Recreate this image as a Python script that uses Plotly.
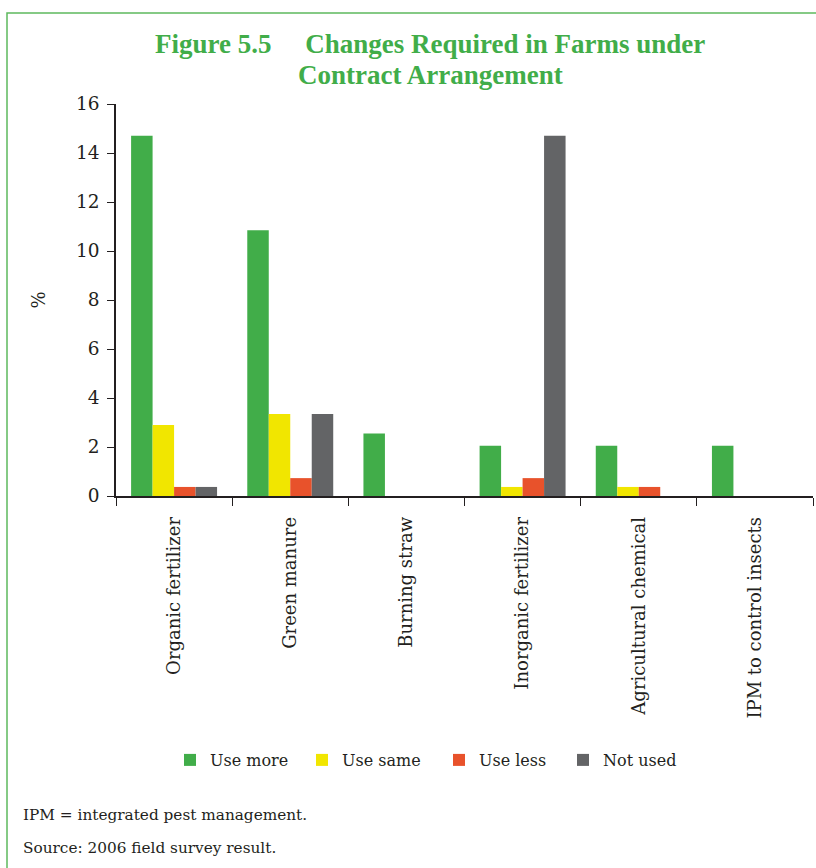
import plotly.graph_objects as go

categories = ["Organic fertilizer", "Green manure", "Burning straw",
              "Inorganic fertilizer", "Agricultural chemical", "IPM to control insects"]
use_more = [14.7, 10.85, 2.55, 2.05, 2.05, 2.05]
use_same = [2.9, 3.35, 0, 0.37, 0.37, 0]
use_less = [0.37, 0.73, 0, 0.73, 0.37, 0]
not_used = [0.37, 3.35, 0, 14.7, 0, 0]
y_ticks = [0, 2, 4, 6, 8, 10, 12, 14, 16]

series = [("Use more", use_more, "#41AD49", 87),
          ("Use same", use_same, "#F1E600", 92),
          ("Use less", use_less, "#E8522B", 79),
          ("Not used", not_used, "#636466", 90)]

W, H = 816, 868
L, R, T, B = 116, 3, 104, 372
pw, ph = W - L - R, H - T - B


def px(x):
    return (x - L) / pw


def py(y):
    return (H - B - y) / ph


FONT = "DejaVu Serif"
TXT = "#231F20"

fig = go.Figure()
for name, vals, col, lw in series:
    fig.add_trace(go.Bar(x=categories, y=vals, name=name, legendwidth=lw,
                         marker=dict(color=col, line=dict(width=0))))

fig.update_layout(
    width=W, height=H,
    margin=dict(l=L, r=R, t=T, b=B),
    paper_bgcolor="white", plot_bgcolor="white",
    barmode="group", bargap=0.26, bargroupgap=0,
    font=dict(family=FONT, color=TXT),
    showlegend=True,
    legend=dict(orientation="h", x=px(170), xanchor="left", y=py(760), yanchor="middle",
                font=dict(size=16, family=FONT, color=TXT),
                traceorder="normal"),
    xaxis=dict(type="category", tickson="boundaries", ticks="outside", ticklen=8,
               tickcolor=TXT, tickwidth=1, showline=True, linecolor=TXT, linewidth=1.5,
               tickangle=-90, tickfont=dict(size=18, family=FONT, color=TXT),
               ticklabelstandoff=12, showgrid=False),
    yaxis=dict(range=[0, 16], tickvals=y_ticks, ticks="outside", ticklen=7, tickcolor=TXT,
               showline=True, linecolor=TXT, linewidth=1.5, showgrid=False, zeroline=False,
               ticklabelstandoff=4,
               tickfont=dict(size=18.5, family=FONT, color=TXT)),
)

TITLE_FONT = dict(family="Liberation Serif", size=27, color="#41AD49")
fig.add_annotation(text="<b>Figure 5.5     Changes Required in Farms under</b>",
                   xref="paper", yref="paper", x=px(430), y=py(44), xanchor="center", yanchor="middle",
                   showarrow=False, font=TITLE_FONT)
fig.add_annotation(text="<b>Contract Arrangement</b>",
                   xref="paper", yref="paper", x=px(430), y=py(75), xanchor="center", yanchor="middle",
                   showarrow=False, font=TITLE_FONT)
fig.add_annotation(text="%", xref="paper", yref="paper", x=px(25), y=py(300), textangle=-90,
                   showarrow=False, font=dict(family=FONT, size=18, color=TXT))
fig.add_annotation(text="IPM = integrated pest management.", xref="paper", yref="paper",
                   x=px(21), y=py(815), xanchor="left", yanchor="middle", showarrow=False,
                   font=dict(family=FONT, size=15.3, color=TXT))
fig.add_annotation(text="Source: 2006 field survey result.", xref="paper", yref="paper",
                   x=px(21), y=py(848), xanchor="left", yanchor="middle", showarrow=False,
                   font=dict(family=FONT, size=15.3, color=TXT))

fig.add_shape(type="path", xref="paper", yref="paper",
              path=f"M {px(7)} {py(870)} L {px(7)} {py(13)} L {px(820)} {py(13)}",
              line=dict(color="#5DB95E", width=1.5))

fig.write_html("out.html")
